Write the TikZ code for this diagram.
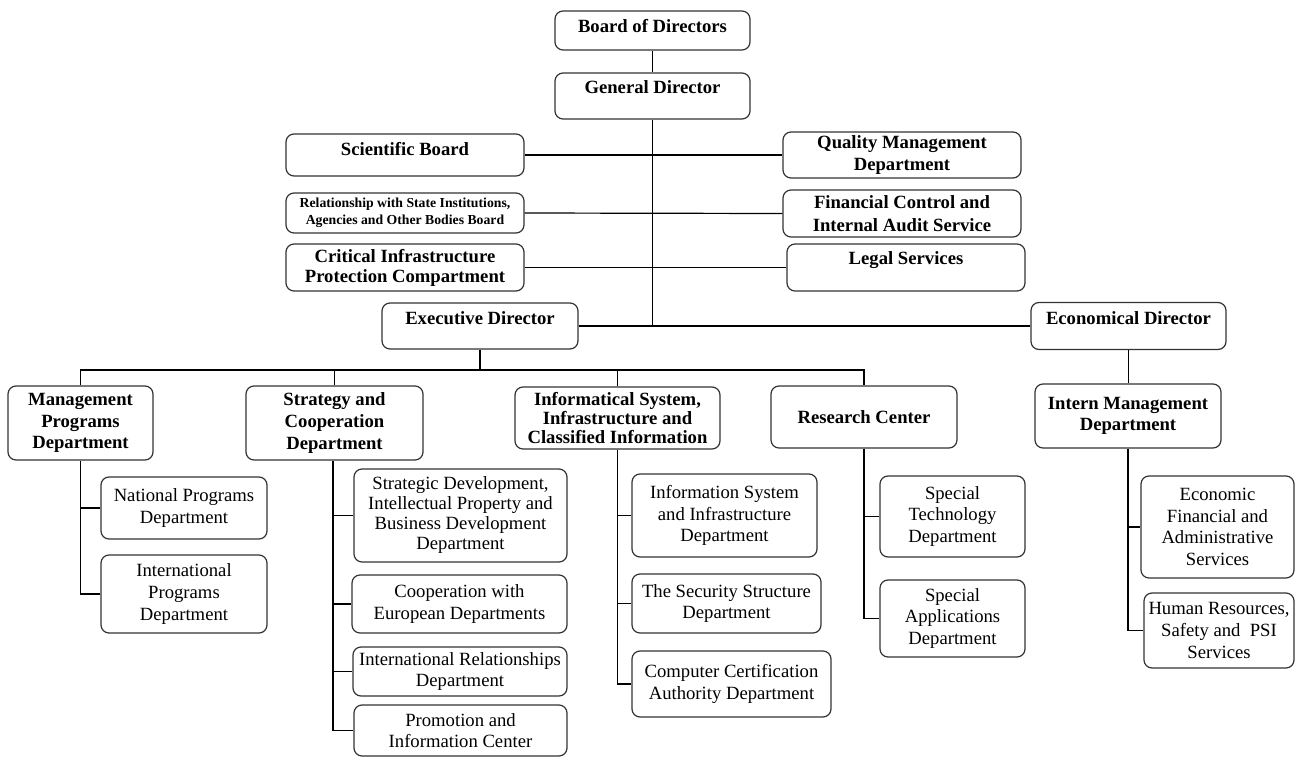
\documentclass[tikz,border=0pt]{standalone}
\usepackage{fontspec}
\setmainfont{Liberation Serif}
\begin{document}
\begin{tikzpicture}[x=0.75pt,y=-0.75pt,
  box/.style={draw=black!80, line width=0.9pt, rounded corners=6pt, align=center,
              inner xsep=1pt, inner ysep=1pt, font=\fontsize{14}{16.2}\selectfont},
  hd/.style={box, font=\fontsize{14}{16.2}\selectfont\bfseries},
  wh/.style 2 args={minimum width=#1*0.75pt, minimum height=#2*0.75pt},
  up/.style={text height=10pt, text depth=#1},
  wire/.style={line width=0.9pt, black}]
\useasboundingbox (0,0) rectangle (1297,757);

% top levels
\node[hd, wh={195}{39}, up=6.7pt] (board) at (652.5,30.5) {Board of Directors};
\node[hd, wh={195}{46}, up=14.2pt] (gd) at (652.5,96) {General Director};
\node[hd, wh={238}{42}, up=9.7pt] (sci) at (405,155) {Scientific Board};
\node[hd, wh={238}{46}] (qual) at (902,155) {Quality Management\\Department};
\node[hd, wh={238}{40}, font=\fontsize{10.3}{12.75}\selectfont\bfseries] (rel) at (405,213)
  {Relationship with State Institutions,\\Agencies and Other Bodies Board};
\node[hd, wh={238}{47}, font=\fontsize{14}{17.5}\selectfont\bfseries] (fin) at (902,213.5)
  {Financial Control and\\Internal Audit Service};
\node[hd, wh={238}{47}, font=\fontsize{14}{15}\selectfont\bfseries] (crit) at (405,267.5)
  {Critical Infrastructure\\Protection Compartment};
\node[hd, wh={238}{47}, up=15pt] (legal) at (906,267.5) {Legal Services};
\node[hd, wh={196}{46}, up=12.7pt] (exec) at (480,326) {Executive Director};
\node[hd, wh={195}{47}, up=12.7pt] (econ) at (1128.5,326) {Economical Director};

% departments
\node[hd, wh={145}{74}] (mgmt) at (80.5,423) {Management\\Programs\\Department};
\node[hd, wh={177}{74}] (strat) at (334.5,423) {Strategy and\\Cooperation\\Department};
\node[hd, wh={205}{62}, font=\fontsize{14}{14.3}\selectfont\bfseries] (info) at (617.5,418)
  {Informatical System,\\Infrastructure and\\Classified Information};
\node[hd, wh={186}{62}] (res) at (864,417) {Research Center};
\node[hd, wh={186}{64}] (intern) at (1128,416) {Intern Management\\Department};

% sub-departments
\node[box, wh={166}{62}] (nat) at (184,508) {National Programs\\Department};
\node[box, wh={166}{78}] (intp) at (184,594) {International\\Programs\\Department};
\node[box, wh={213}{93}, font=\fontsize{14}{15}\selectfont] (sdev) at (460.5,515.5)
  {Strategic Development,\\Intellectual Property and\\Business Development\\Department};
\node[box, wh={215}{58}] (coop) at (459.5,604) {Cooperation with\\European Departments};
\node[box, wh={214}{49}] (irel) at (460,671.5) {International Relationships\\Department};
\node[box, wh={213}{51}] (promo) at (460.5,730.5) {Promotion and\\Information Center};
\node[box, wh={185}{83}] (isys) at (724.5,515.5) {Information System\\and Infrastructure\\Department};
\node[box, wh={189}{59}] (sec) at (726.5,603.5) {The Security Structure\\Department};
\node[box, wh={199}{66}] (cert) at (731.5,684) {Computer Certification\\Authority Department};
\node[box, wh={145}{81}] (stech) at (952.5,516.5) {Special\\Technology\\Department};
\node[box, wh={145}{77}] (sapp) at (952.5,618.5) {Special\\Applications\\Department};
\node[box, wh={153}{102}] (efin) at (1217.5,527) {Economic\\Financial and\\Administrative\\Services};
\node[box, wh={150}{75}] (hr) at (1219,630.5) {Human Resources,\\Safety and\ \ PSI\\Services};

% connectors
\draw[wire] (board.south) -- (gd.north);
\draw[wire] (gd.south) -- (gd.south |- exec.east);
\draw[wire] (exec.east) -- (econ.west);
\draw[wire] (sci.east) -- (qual.west);
\draw[wire] (rel.east) -- (fin.west);
\draw[wire] (crit.east) -- (legal.west);
\coordinate (bus) at (480,370);
\draw[wire] (exec.south) -- (bus);
\draw[wire] (mgmt.north) -- (mgmt.north |- bus) -- (res.north |- bus) -- (res.north);
\draw[wire] (strat.north) -- (strat.north |- bus);
\draw[wire] (info.north) -- (info.north |- bus);
\draw[wire] (econ.south) -- (econ.south |- intern.north);

\draw[wire] (mgmt.south) -- (mgmt.south |- intp.west) -- (intp.west);
\draw[wire] (mgmt.south |- nat.west) -- (nat.west);

\coordinate (st) at (333,0);
\draw[wire] (strat.south -| st) -- (st |- promo.west) -- (promo.west);
\draw[wire] (st |- sdev.west) -- (sdev.west);
\draw[wire] (st |- coop.west) -- (coop.west);
\draw[wire] (st |- irel.west) -- (irel.west);

\draw[wire] (info.south) -- (info.south |- cert.west) -- (cert.west);
\draw[wire] (info.south |- isys.west) -- (isys.west);
\draw[wire] (info.south |- sec.west) -- (sec.west);

\draw[wire] (res.south) -- (res.south |- sapp.west) -- (sapp.west);
\draw[wire] (res.south |- stech.west) -- (stech.west);

\draw[wire] (intern.south) -- (intern.south |- hr.west) -- (hr.west);
\draw[wire] (intern.south |- efin.west) -- (efin.west);
\end{tikzpicture}
\end{document}
